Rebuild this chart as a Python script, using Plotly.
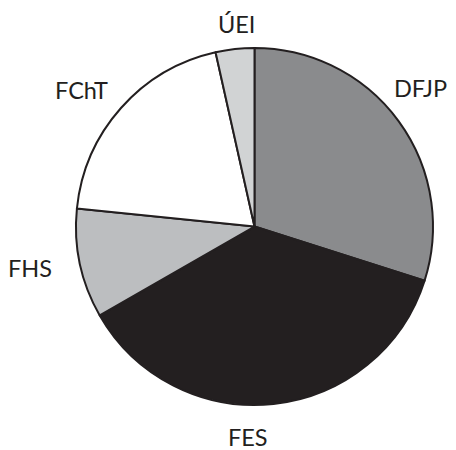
import plotly.graph_objects as go

labels = ["DFJP", "FES", "FHS", "FChT", "ÚEI"]
values = [29.9, 36.8, 9.9, 19.9, 3.5]
colors = ["#8a8b8d", "#231f20", "#bcbec0", "#ffffff", "#d1d3d4"]

# label text positions (pixels in the 456x450 canvas)
label_px = {"DFJP": (420, 88), "FES": (248, 437), "FHS": (30, 268),
            "FChT": (81, 90), "ÚEI": (236, 24)}

W, H = 456, 450
fig = go.Figure(go.Pie(
    labels=labels, values=values, sort=False, direction="clockwise", rotation=0,
    marker=dict(colors=colors, line=dict(color="#231f20", width=2)),
    textinfo="none", hoverinfo="label+percent",
    domain=dict(x=[76 / W, 433 / W], y=[(H - 408) / H, (H - 45) / H]),
    showlegend=False,
))
for lab in labels:
    px, py = label_px[lab]
    fig.add_annotation(x=px / W, y=1 - py / H, xref="paper", yref="paper",
                       text=lab, showarrow=False, xanchor="center", yanchor="middle",
                       font=dict(family="Lato", size=23.5, color="#231f20"))
fig.update_layout(width=W, height=H, margin=dict(l=0, r=0, t=0, b=0),
                  paper_bgcolor="white", plot_bgcolor="white")
fig.write_html("out.html", config={"displayModeBar": False},
               post_script="document.body.style.margin='0';document.body.style.overflow='hidden';")
